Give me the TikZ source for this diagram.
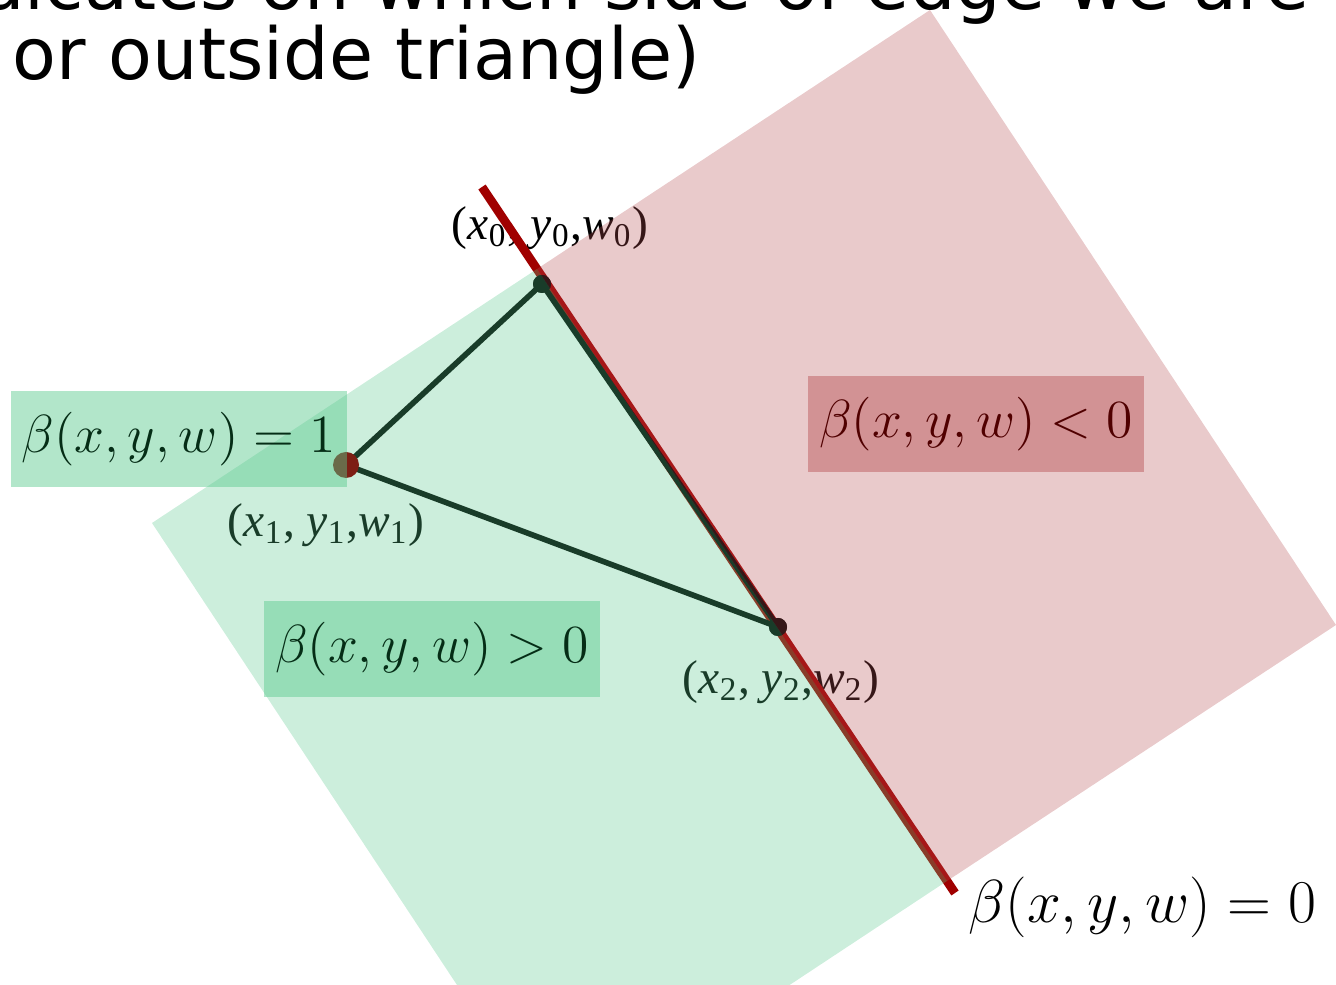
\documentclass[tikz,border=0pt]{standalone}
\usepackage{fontspec}
\newfontfamily\slidefont{DejaVu Sans}
\newfontfamily\vertexfont{Liberation Serif}
\usetikzlibrary{positioning,calc}
\definecolor{halfgreen}{RGB}{85,199,138}
\definecolor{halfred}{RGB}{182,78,82}
\definecolor{edgered}{RGB}{160,0,0}
\definecolor{darkgreen}{RGB}{5,45,22}
\definecolor{darkred}{RGB}{80,0,0}
\definecolor{dotred}{RGB}{125,30,20}

\begin{document}
\begin{tikzpicture}[
  titletext/.style={font=\slidefont\fontsize{20.4}{24}\selectfont, inner sep=0pt},
  vlabel/.style={font=\vertexfont\fontsize{13.5}{16}\selectfont, inner sep=0pt},
  vdot/.style={circle, fill=black, inner sep=0pt, minimum size=0.18cm},
  signbox/.style={
    rectangle, fill opacity=0.45, text opacity=1,
    minimum width=3.36cm, minimum height=0.96cm, inner sep=0pt,
    font=\fontsize{15.2}{18}\selectfont
  },
  triedge/.style={line width=1.6pt, black},
  splitline/.style={line width=2.5pt, edgered},
]
\useasboundingbox (0,0) rectangle (13.36,-9.85);

% Slide text (first line cut by the page)
\node[titletext, anchor=base east] (title1) at (13.10,-0.10)
  {indicates on which side of edge we are};
\node[titletext, anchor=base west] (title2) at (0.12,-0.80)
  {or outside triangle)};

% Vertex labels
\node[vlabel] (l0) at (5.50,-2.28)
  {(\textit{x}\textsubscript{0}, \textit{y}\textsubscript{0},\textit{w}\textsubscript{0})};
\node[vlabel] (l1) at (3.26,-5.25)
  {(\textit{x}\textsubscript{1}, \textit{y}\textsubscript{1},\textit{w}\textsubscript{1})};
\node[vlabel] (l2) at (7.81,-6.82)
  {(\textit{x}\textsubscript{2}, \textit{y}\textsubscript{2},\textit{w}\textsubscript{2})};

% Edge line beta = 0
\coordinate (etop) at (4.82,-1.87);
\coordinate (ebot) at (9.55,-8.93);
\draw[splitline] (etop) -- (ebot);

% Triangle
\node[vdot] (p0) at (5.42,-2.84) {};
\node[vdot, minimum size=0.1cm] (p1) at (3.46,-4.65) {};
\node[vdot] (p2) at (7.78,-6.27) {};
\draw[triedge] (p0.center) -- (p1.center) -- (p2.center) -- cycle;
\node[vdot] at (p0) {};
\node[vdot] at (p2) {};

% Half planes
\coordinate (ra) at (1.52,-5.23);
\coordinate (rb) at (9.30,-0.10);
\coordinate (rc) at (13.36,-6.25);
\coordinate (rd) at (5.58,-11.38);
\coordinate (m1) at (5.37,-2.69);
\coordinate (m2) at (9.47,-8.81);
\fill[halfgreen, fill opacity=0.3] (ra) -- (m1) -- (m2) -- (rd) -- cycle;
\fill[halfred, fill opacity=0.3] (m1) -- (rb) -- (rc) -- (m2) -- cycle;

\node[circle, fill=dotred, inner sep=0pt, minimum size=0.26cm] (v1) at (p1) {};

% Sign labels
\node[signbox, fill=halfgreen, text=darkgreen] (one) at (1.785,-4.39)
  {\scalebox{1.06}{$\beta(x,y,w) = 1$}};
\node[signbox, fill=halfred, text=darkred] (neg) at (9.76,-4.245)
  {\scalebox{1.06}{$\beta(x,y,w) < 0$}};
\node[signbox, fill=halfgreen, text=darkgreen] (pos) at (4.32,-6.49)
  {\scalebox{1.06}{$\beta(x,y,w) > 0$}};
\node[anchor=west, inner sep=0pt, font=\fontsize{17.3}{20}\selectfont] (zero)
  at (9.68,-9.07) {$\beta(x,y,w) = 0$};

\end{tikzpicture}
\end{document}
